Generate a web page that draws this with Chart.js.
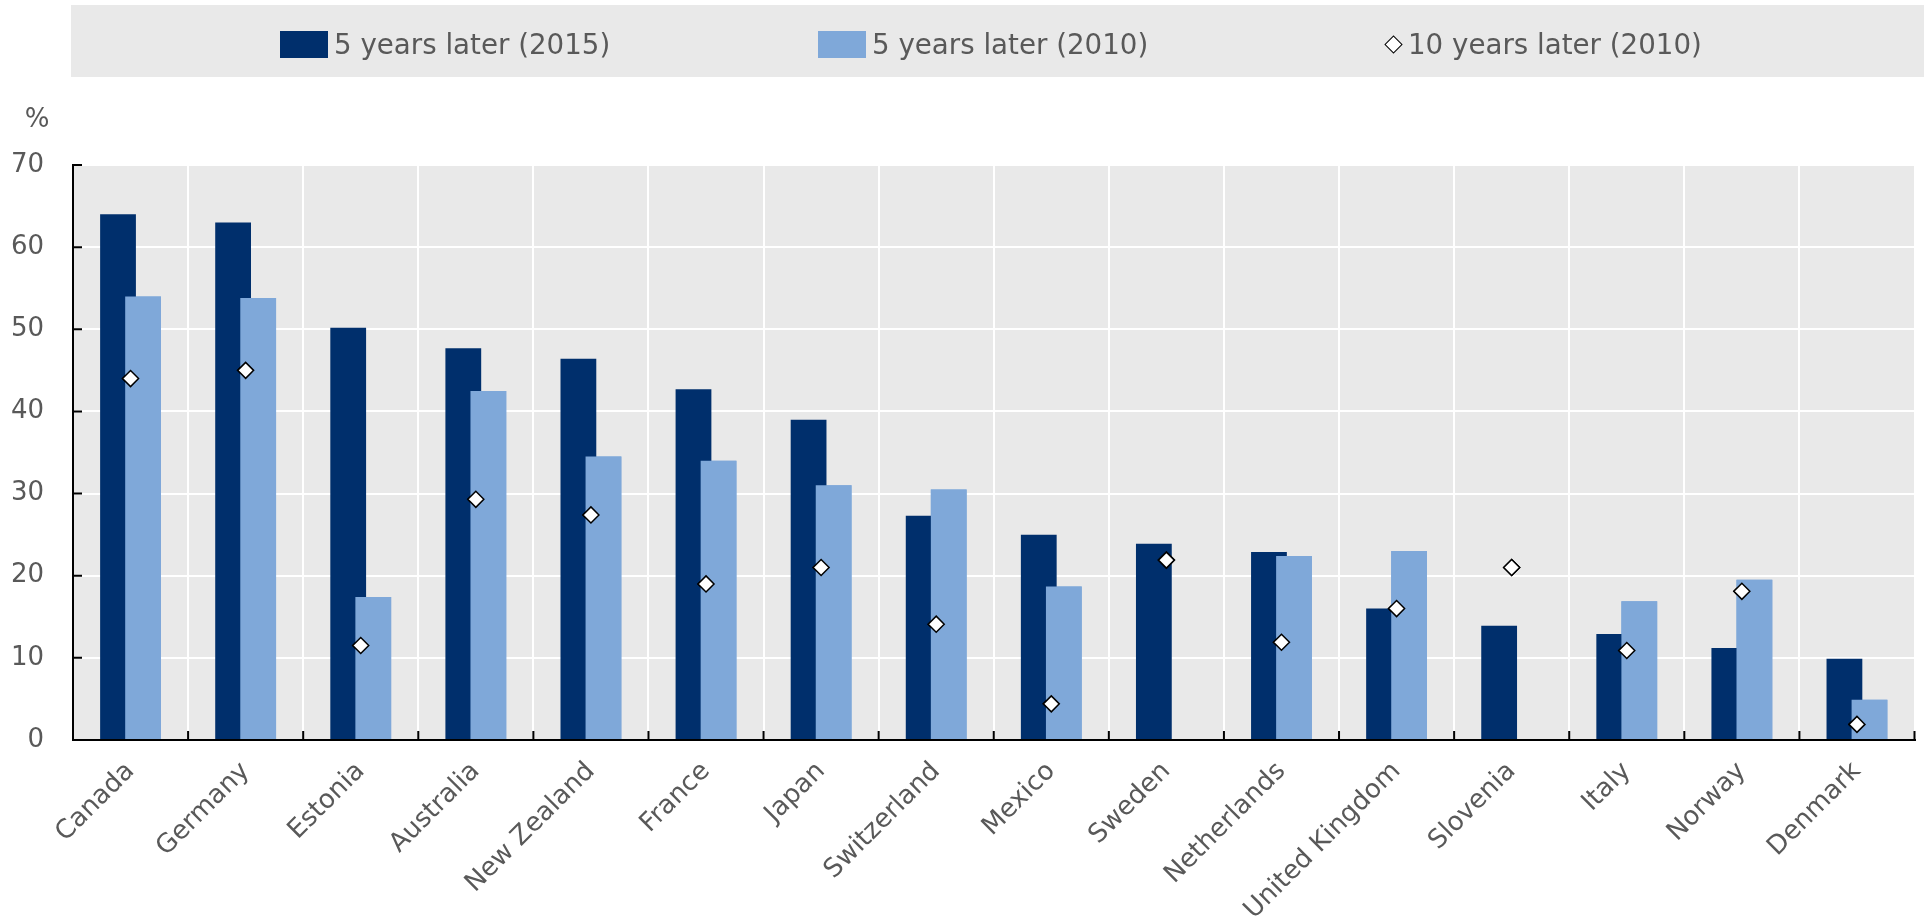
<!DOCTYPE html>
<html>
<head>
<meta charset="utf-8">
<script src="https://cdn.jsdelivr.net/npm/chart.js"></script>
<style>
  body { margin: 0; background: #fff; font-family: "DejaVu Sans", Verdana, sans-serif; }
  #wrap { position: relative; width: 1924px; height: 923px; }
  #chart { position: absolute; left: 0; top: 0; }
  #legend { position: absolute; left: 71px; top: 5px; width: 1853px; height: 72px; background: #e9e9e9; }
  .item { position: absolute; top: 3px; height: 72px; display: flex; align-items: center; color: #595959; font-size: 27.7px; }
  .swatch { width: 48px; height: 27px; margin-right: 6px; }
  .diamond { width: 11px; height: 11px; background: #fff; border: 1.5px solid #000; transform: rotate(45deg); margin: 0 8px 0 3px; }
</style>
</head>
<body>
<div id="wrap">
  <canvas id="chart" width="1924" height="923"></canvas>
  <div id="legend">
    <div class="item" style="left:209px"><span class="swatch" style="background:#002f6c"></span>5 years later (2015)</div>
    <div class="item" style="left:747px"><span class="swatch" style="background:#7fa8d9"></span>5 years later (2010)</div>
    <div class="item" style="left:1313px"><span class="diamond"></span>10 years later (2010)</div>
  </div>
</div>
<script>
// countries, sorted as in the source figure
const categories = ['Canada', 'Germany', 'Estonia', 'Australia', 'New Zealand', 'France', 'Japan',
  'Switzerland', 'Mexico', 'Sweden', 'Netherlands', 'United Kingdom', 'Slovenia', 'Italy', 'Norway', 'Denmark'];

// share in %
const fiveYears2015 = [64.0, 63.0, 50.2, 47.7, 46.4, 42.7, 39.0, 27.3, 25.0, 23.9, 22.9, 16.0, 13.9, 12.9, 11.2, 9.9];
const fiveYears2010 = [54.0, 53.8, 17.4, 42.5, 34.5, 34.0, 31.0, 30.5, 18.7, null, 22.4, 23.0, null, 16.9, 19.5, 4.9];
const tenYears2010 = [44.0, 45.0, 11.5, 29.3, 27.4, 19.0, 21.0, 14.1, 4.4, 21.9, 11.9, 16.0, 21.0, 10.9, 18.1, 1.9];

const yTicks = [0, 10, 20, 30, 40, 50, 60, 70];

Chart.defaults.font.family = '"DejaVu Sans", Verdana, sans-serif';
Chart.defaults.font.size = 26;
Chart.defaults.color = '#595959';

// grey plot background
const plotBg = {
  id: 'plotBg',
  beforeDraw(chart) {
    const {ctx, chartArea: a} = chart;
    ctx.save();
    ctx.fillStyle = '#e9e9e9';
    ctx.fillRect(a.left, a.top, a.right - a.left, a.bottom - a.top);
    ctx.restore();
  }
};

// light bars sit on top of the dark ones, diamonds on top of all
const overlap = {
  id: 'overlap',
  afterDatasetsDraw(chart) {
    chart.getDatasetMeta(1).controller.draw();
    chart.getDatasetMeta(2).controller.draw();
  }
};

// small inward tick marks + the "%" unit label
const extras = {
  id: 'extras',
  afterDraw(chart) {
    const {ctx, chartArea: a} = chart;
    const y = chart.scales.y;
    ctx.save();
    ctx.strokeStyle = '#000';
    ctx.lineWidth = 2;
    ctx.beginPath();
    yTicks.forEach(v => {
      const py = y.getPixelForValue(v);
      ctx.moveTo(a.left, py);
      ctx.lineTo(a.left + 9, py);
    });
    const step = (a.right - a.left) / categories.length;
    for (let i = 0; i <= categories.length; i++) {
      const px = a.left + i * step;
      ctx.moveTo(px, a.bottom);
      ctx.lineTo(px, a.bottom - 9);
    }
    ctx.stroke();
    ctx.fillStyle = '#595959';
    ctx.font = '26px "DejaVu Sans", Verdana, sans-serif';
    ctx.textAlign = 'center';
    ctx.textBaseline = 'middle';
    ctx.fillText('%', 37, 120);
    ctx.restore();
  }
};

new Chart(document.getElementById('chart'), {
  type: 'bar',
  data: {
    labels: categories,
    datasets: [
      {
        label: '5 years later (2015)',
        data: fiveYears2015,
        backgroundColor: '#002f6c',
        categoryPercentage: 0.4355,
        barPercentage: 1.428,
        order: 1
      },
      {
        label: '5 years later (2010)',
        data: fiveYears2010,
        backgroundColor: '#7fa8d9',
        categoryPercentage: 0.4355,
        barPercentage: 1.428,
        order: 2
      },
      {
        type: 'line',
        label: '10 years later (2010)',
        data: tenYears2010,
        showLine: false,
        pointStyle: 'rectRot',
        pointRadius: 8,
        pointBackgroundColor: '#fff',
        pointBorderColor: '#000',
        pointBorderWidth: 1.5,
        order: 0
      }
    ]
  },
  options: {
    responsive: false,
    animation: false,
    layout: { padding: { top: 165, left: 11, right: 0, bottom: 0 } },
    plugins: {
      legend: { display: false },
      tooltip: { enabled: false }
    },
    scales: {
      x: {
        grid: { offset: true, color: '#ffffff', lineWidth: 2, drawTicks: false },
        border: { color: '#000', width: 2 },
        ticks: { autoSkip: false, minRotation: 45, maxRotation: 45, padding: 18, font: { size: 26, lineHeight: 1 } },
        // chart.js reserves the tick padding twice; keep the axis band as in the original
        afterFit(scale) { scale.paddingLeft = 0; scale.paddingRight = 0; scale.height = 183; }
      },
      y: {
        min: 0,
        max: 70,
        grid: { color: '#ffffff', lineWidth: 2, drawTicks: false },
        border: { color: '#000', width: 2 },
        ticks: { stepSize: 10, padding: 29 },
        afterFit(scale) { scale.width = 62; }
      }
    }
  },
  plugins: [plotBg, overlap, extras]
});
</script>
</body>
</html>
